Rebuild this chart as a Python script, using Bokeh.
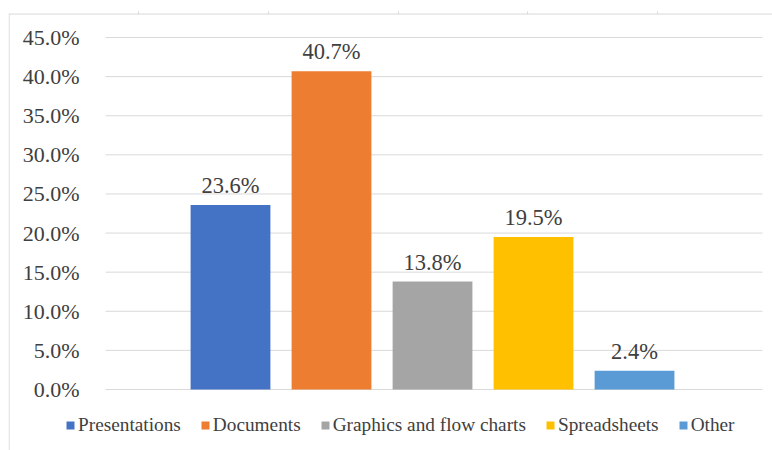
from bokeh.plotting import figure
from bokeh.models import (Range1d, ColumnDataSource, LabelSet, Legend, LegendItem,
                          FixedTicker, LinearAxis, PrintfTickFormatter)
from bokeh.core.properties import value
from bokeh.embed import file_html
from bokeh.resources import INLINE

# Share of file types, one bar per type
series = ["Presentations", "Documents", "Graphics and flow charts", "Spreadsheets", "Other"]
shares = [23.6, 40.7, 13.8, 19.5, 2.4]
colors = ["#4472C4", "#ED7D31", "#A5A5A5", "#FFC000", "#5B9BD5"]
y_ticks = [0, 5, 10, 15, 20, 25, 30, 35, 40, 45]
labels = [f"{v:.1f}%" for v in shares]

FONT = "Liberation Serif"
TEXT = "#404040"
GRID = "#D9D9D9"

# layout of the drawing area, in data units (1 x-unit = one bar step)
X0, X1 = -2.198, 5.366          # whole frame
GX0, GX1 = -1.2376, 5.267       # plot area holding the gridlines
Y0, Y1 = -7.80, 48.71           # whole frame
BORDER_Y = 48.0                 # top rule of the chart box
TOP_TICKS = [-0.911, 0.376, 1.663, 2.941, 4.228]

source = ColumnDataSource(dict(
    x=list(range(len(series))), y=shares, name=series, color=colors, label=labels,
))

p = figure(width=772, height=450,
           x_range=Range1d(X0, X1), y_range=Range1d(Y0, Y1),
           x_axis_location=None, y_axis_location=None,
           output_backend="svg", toolbar_location=None,
           min_border_left=8, min_border_right=0,
           min_border_top=8, min_border_bottom=0)
p.outline_line_color = None
p.background_fill_color = "white"
p.border_fill_color = "white"
p.grid.visible = False

# chart box: left edge and top rule with small tick marks
p.segment(x0=[X0 + 0.006], x1=[X0 + 0.006], y0=[BORDER_Y], y1=[Y0],
          line_color=GRID, line_width=1)
p.segment(x0=[X0], x1=[X1], y0=[BORDER_Y], y1=[BORDER_Y],
          line_color=GRID, line_width=1)
p.segment(x0=TOP_TICKS, x1=TOP_TICKS, y0=[BORDER_Y] * 5, y1=[BORDER_Y + 0.35] * 5,
          line_color=GRID, line_width=1)

# horizontal gridlines (the one at 0 is the baseline)
p.segment(x0=[GX0] * len(y_ticks), x1=[GX1] * len(y_ticks), y0=y_ticks, y1=y_ticks,
          line_color=GRID, line_width=1)

# bars
bars = p.vbar(x="x", top="y", width=0.79, source=source,
              fill_color="color", line_color=None)

# value labels above bars
p.add_layout(LabelSet(x="x", y="y", text="label", source=source,
                      text_align="center", text_baseline="alphabetic", y_offset=12,
                      text_font=value(FONT), text_font_size="22.5px", text_color=TEXT))

# y axis pinned to the left edge of the plot area
yaxis = LinearAxis(fixed_location=GX0,
                   ticker=FixedTicker(ticks=y_ticks),
                   formatter=PrintfTickFormatter(format="%.1f%%"),
                   axis_line_color=None, major_tick_line_color=None,
                   minor_tick_line_color=None, major_label_standoff=20,
                   major_label_text_font=FONT, major_label_text_font_size="22px",
                   major_label_text_color=TEXT)
p.add_layout(yaxis, "left")

# legend below the bars
items = [LegendItem(label=s, renderers=[bars], index=i) for i, s in enumerate(series)]
legend = Legend(items=items, orientation="horizontal", location=(57, 14),
                glyph_width=10, glyph_height=10, label_standoff=3, spacing=19,
                padding=0, margin=0, border_line_color=None, background_fill_alpha=0,
                label_text_font=FONT, label_text_font_size="19.3px",
                label_text_color=TEXT)
p.add_layout(legend)

open("out.html", "w").write(file_html(p, INLINE))
